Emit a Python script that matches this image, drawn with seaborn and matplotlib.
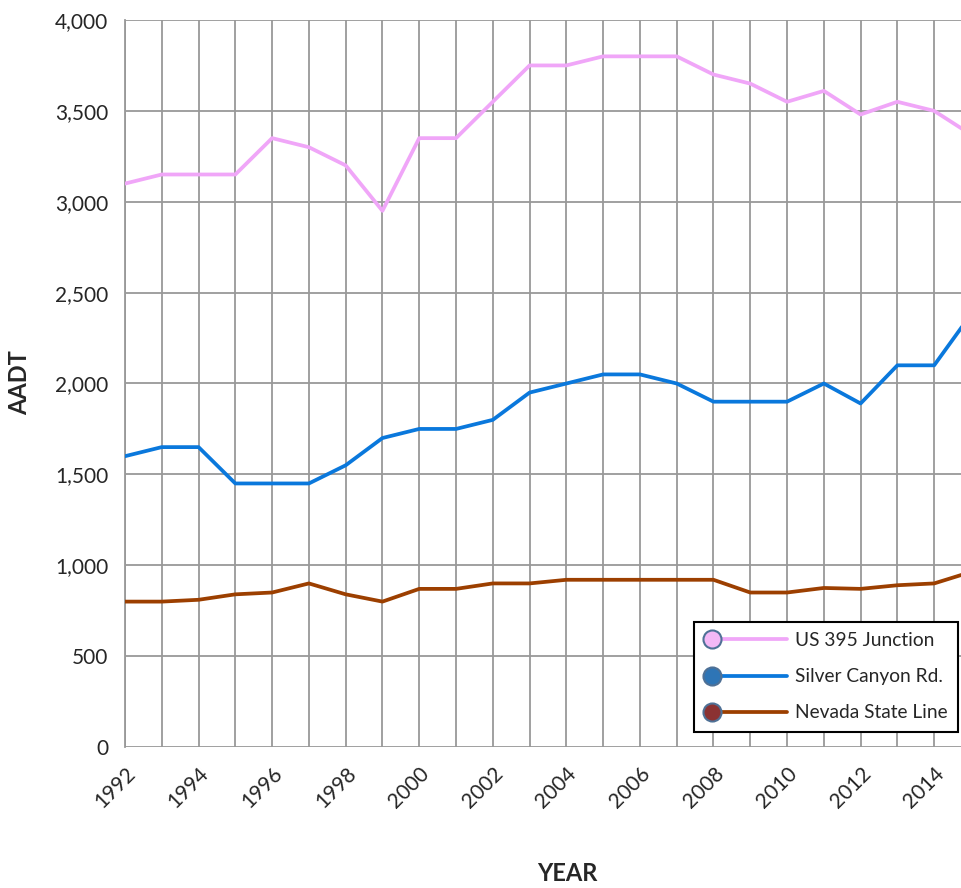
import numpy as np
import pandas as pd
import matplotlib
matplotlib.use("Agg")
import matplotlib.pyplot as plt
import seaborn as sns
from matplotlib.lines import Line2D
from matplotlib.legend_handler import HandlerBase

years = list(range(1992, 2016))
us395 = [3100, 3150, 3150, 3150, 3350, 3300, 3200, 2950, 3350, 3350, 3550, 3750,
         3750, 3800, 3800, 3800, 3700, 3650, 3550, 3610, 3480, 3550, 3500, 3370]
silver = [1600, 1650, 1650, 1450, 1450, 1450, 1550, 1700, 1750, 1750, 1800, 1950,
          2000, 2050, 2050, 2000, 1900, 1900, 1900, 2000, 1890, 2100, 2100, 2380]
nevada = [800, 800, 810, 840, 850, 900, 840, 800, 870, 870, 900, 900,
          920, 920, 920, 920, 920, 850, 850, 875, 870, 890, 900, 963]
series_names = ["US 395 Junction", "Silver Canyon Rd.", "Nevada State Line"]
line_colors = ["#F0A6F8", "#0A78DC", "#9C3F00"]
marker_faces = ["#F4B8F6", "#2E75B6", "#8B3232"]
y_ticks = list(range(0, 4001, 500))
x_label_years = list(range(1992, 2015, 2))

df = pd.DataFrame({
    "year": years * 3,
    "AADT": us395 + silver + nevada,
    "series": sum([[n] * len(years) for n in series_names], []),
})

sns.set_style("white")
plt.rcParams["font.family"] = ["Lato", "DejaVu Sans"]

fig = plt.figure(figsize=(9.61, 8.88), dpi=100)
ax = fig.add_axes([125 / 961, 1 - 747 / 888, 1 - 125 / 961, (747 - 20) / 888])

sns.lineplot(data=df, x="year", y="AADT", hue="series", hue_order=series_names,
             palette=line_colors, linewidth=2.7, legend=False, ax=ax, zorder=3)

ax.set_xlim(1992, 2014.73)
ax.set_ylim(0, 4000)
ax.set_yticks(y_ticks)
ax.set_yticklabels([f"{v:,}" for v in y_ticks], fontsize=15)
ax.set_xticks(years[:-1])
ax.set_xticklabels([str(y) if y in x_label_years else "" for y in years[:-1]],
                   rotation=45, fontsize=15, ha="right", rotation_mode="anchor")
ax.tick_params(axis="x", length=8, color="#999999", width=1.2, pad=4)
ax.tick_params(axis="y", length=8, color="#999999", width=1.2, pad=4)
ax.grid(True, color="#999999", linewidth=1.3)
ax.set_axisbelow(True)
for s in ["top", "right", "bottom"]:
    ax.spines[s].set_visible(False)
ax.spines["left"].set_color("#999999")
ax.spines["left"].set_linewidth(1.3)
ax.set_xlabel("")
ax.set_ylabel("")

fig.text(20 / 961, 1 - 383 / 888, "AADT", rotation=90, fontsize=17, fontweight="bold",
         ha="center", va="center")
fig.text(567 / 961, 1 - 873 / 888, "YEAR", fontsize=17, fontweight="bold",
         ha="center", va="center")


class LeftMarkerHandler(HandlerBase):
    def create_artists(self, legend, orig_handle, xdescent, ydescent, width, height,
                       fontsize, trans):
        x0 = -xdescent
        y = (height - ydescent) / 2.0
        line = Line2D([x0 + 5, x0 + width], [y, y], color=orig_handle.get_color(),
                      linewidth=orig_handle.get_linewidth(), solid_capstyle="round")
        marker = Line2D([x0 + 5], [y], linestyle="none", marker="o",
                        markersize=orig_handle.get_markersize(),
                        markerfacecolor=orig_handle.get_markerfacecolor(),
                        markeredgecolor=orig_handle.get_markeredgecolor(),
                        markeredgewidth=orig_handle.get_markeredgewidth())
        line.set_transform(trans)
        marker.set_transform(trans)
        return [line, marker]


handles = [Line2D([0], [0], color=c, linewidth=2.7, marker="o", markersize=13,
                  markerfacecolor=f, markeredgecolor="#4F7196", markeredgewidth=1.5)
           for c, f in zip(line_colors, marker_faces)]
leg = ax.legend(handles, series_names, loc="lower right",
                bbox_to_anchor=(833 / 836, 15 / 727), borderaxespad=0,
                handler_map={Line2D: LeftMarkerHandler()},
                fontsize=13.8, frameon=True, fancybox=False, edgecolor="black",
                framealpha=1, borderpad=0.55, labelspacing=1.0, handlelength=4.3,
                handletextpad=0.4)
leg.get_frame().set_linewidth(1.5)

fig.savefig("out.png", dpi=100)
